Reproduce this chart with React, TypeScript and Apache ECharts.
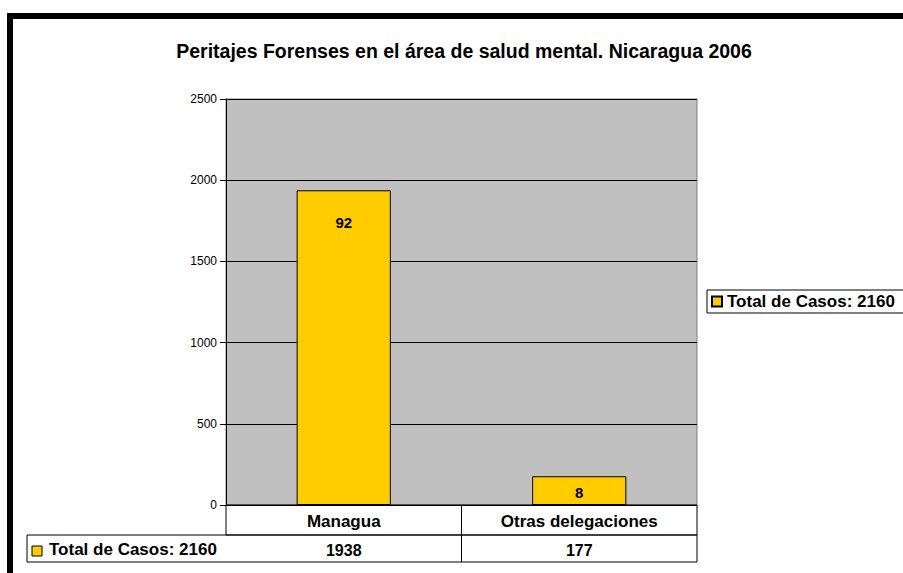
import React, { useEffect, useRef } from "react";
import * as echarts from "echarts";

const title = "Peritajes Forenses en el área de salud mental. Nicaragua 2006";
const seriesName = "Total de Casos: 2160";
const categories = ["Managua", "Otras delegaciones"];
const values = [1938, 177];
const percentLabels = ["92", "8"];
const labelDistances = [25, 9];

export default function App() {
  const ref = useRef<HTMLDivElement>(null);
  useEffect(() => {
    if (!ref.current) return;
    const chart = echarts.init(ref.current, undefined, { renderer: "svg" });
    const gridLeft = 226, gridTop = 99, gridW = 471, gridH = 406;
    const bandW = gridW / categories.length;
    const font = "'Liberation Sans', Arial, sans-serif";
    const graphics: any[] = [
      { type: "rect", shape: { x: 7, y: 13, width: 6, height: 560 }, style: { fill: "#000" } },
      { type: "rect", shape: { x: 7, y: 13, width: 896, height: 6 }, style: { fill: "#000" } },
      { type: "rect", shape: { x: gridLeft, y: gridTop + gridH, width: gridW, height: 30 }, style: { fill: "none", stroke: "#000", lineWidth: 1 } },
      { type: "rect", shape: { x: 27, y: gridTop + gridH + 30, width: gridLeft + gridW - 27, height: 27 }, style: { fill: "none", stroke: "#000", lineWidth: 1 } },
      { type: "rect", shape: { x: 32, y: 546, width: 10, height: 10 }, style: { fill: "#FFCC00", stroke: "#000", lineWidth: 1 } },
      { type: "text", x: 49, y: 549, style: { text: seriesName, font: `bold 17px ${font}`, fill: "#000", textVerticalAlign: "middle" } },
    ];
    for (let i = 1; i < categories.length; i++) {
      const x = gridLeft + bandW * i;
      graphics.push({ type: "line", shape: { x1: x, y1: gridTop + gridH, x2: x, y2: gridTop + gridH + 57 }, style: { stroke: "#000", lineWidth: 1 } });
    }
    chart.setOption({
      animation: false,
      backgroundColor: "#fff",
      title: {
        text: title,
        left: 459,
        textAlign: "center",
        top: 36,
        textStyle: { fontFamily: font, fontWeight: "bold", fontSize: 19.5, color: "#000" },
      },
      legend: {
        left: 707,
        top: 290,
        icon: "rect",
        itemWidth: 10,
        itemHeight: 10,
        padding: [3, 12, 3, 4],
        borderColor: "#000",
        borderWidth: 1,
        backgroundColor: "#fff",
        textStyle: { fontFamily: font, fontWeight: "bold", fontSize: 17, color: "#000" },
        data: [seriesName],
      },
      grid: {
        left: gridLeft,
        top: gridTop,
        width: gridW,
        height: gridH,
        show: true,
        backgroundColor: "#C0C0C0",
        borderColor: "#808080",
        borderWidth: 1,
      },
      xAxis: [
        {
          type: "category",
          data: categories,
          position: "bottom",
          axisLine: { show: false },
          axisTick: { show: false },
          axisLabel: { margin: 8, fontFamily: font, fontWeight: "bold", fontSize: 17, color: "#000" },
        },
        {
          type: "category",
          data: values.map(String),
          position: "bottom",
          offset: 30,
          axisLine: { show: false },
          axisTick: { show: false },
          axisLabel: { margin: 7, fontFamily: font, fontWeight: "bold", fontSize: 16, color: "#000" },
        },
      ],
      yAxis: {
        type: "value",
        min: 0,
        max: 2500,
        interval: 500,
        axisLine: { show: true, lineStyle: { color: "#000" } },
        axisTick: { show: true, length: 6, lineStyle: { color: "#000" } },
        axisLabel: { margin: 9, fontFamily: font, fontSize: 12, color: "#000", formatter: (v: number) => String(v) },
        splitLine: { show: true, lineStyle: { color: "#000", width: 1 } },
      },
      series: [
        {
          name: seriesName,
          type: "bar",
          xAxisIndex: 0,
          barWidth: "40%",
          itemStyle: { color: "#FFCC00", borderColor: "#000", borderWidth: 1 },
          data: values.map((v, i) => ({
            value: v,
            label: {
              show: true,
              position: "insideTop",
              distance: labelDistances[i],
              formatter: percentLabels[i],
              fontFamily: font,
              fontWeight: "bold",
              fontSize: 15,
              color: "#000",
            },
          })),
        },
      ],
      graphic: graphics,
    });
    return () => chart.dispose();
  }, []);
  return (
    <div
      ref={ref}
      style={{ position: "fixed", left: 0, top: 0, width: 903, height: 573 }}
    />
  );
}
